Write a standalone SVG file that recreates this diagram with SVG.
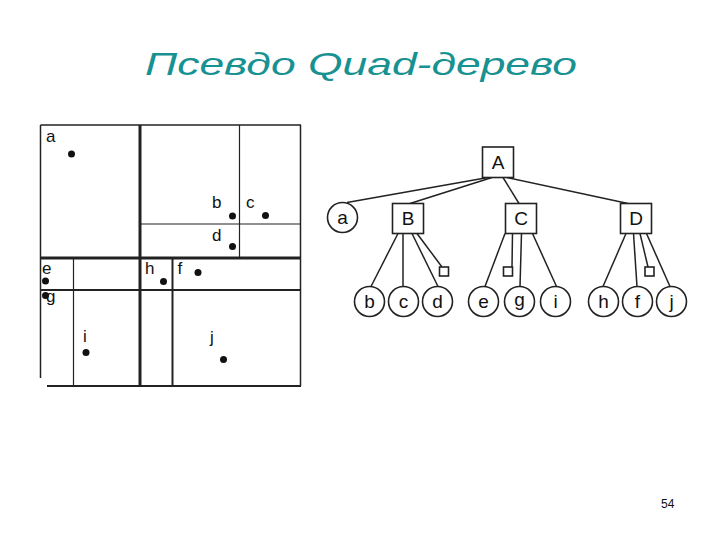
<svg xmlns="http://www.w3.org/2000/svg" width="720" height="540" viewBox="0 0 720 540">
<style>
.title{font-family:"Liberation Sans",Arial,sans-serif;font-style:italic;font-size:32px;fill:#179191}
.lbl{font-family:"Liberation Sans",Arial,sans-serif;font-size:17px;fill:#111}
.tl{font-family:"Liberation Sans",Arial,sans-serif;font-size:19px;fill:#111;text-anchor:middle}
.pt{fill:#111}
.ln{stroke:#222;fill:none}
.node{fill:#fff;stroke:#222;stroke-width:1.6}
.edge{stroke:#222;stroke-width:1.5;fill:none}
.pg{font-family:"Liberation Sans",Arial,sans-serif;font-size:12px;fill:#111}
</style>
<rect width="720" height="540" fill="#fff"/>
<text class="title" x="145" y="75" textLength="432" lengthAdjust="spacingAndGlyphs">Псевдо Quad-дерево</text>

<g id="space">
<line class="ln" stroke-width="1.5" x1="40.5" y1="125" x2="301" y2="125"/>
<line class="ln" stroke-width="1.5" x1="40.5" y1="125" x2="40.5" y2="378"/>
<line class="ln" stroke-width="1.5" x1="300.5" y1="125" x2="300.5" y2="386"/>
<line class="ln" stroke-width="1.8" x1="47" y1="386" x2="301" y2="386"/>
<line class="ln" stroke-width="3" x1="140" y1="125" x2="140" y2="387"/>
<line class="ln" stroke-width="3" x1="40" y1="258" x2="301" y2="258"/>
<line class="ln" stroke-width="1.2" x1="239.5" y1="125" x2="239.5" y2="257"/>
<line class="ln" stroke-width="1.2" x1="140" y1="224" x2="300" y2="224"/>
<line class="ln" stroke-width="2.2" x1="40" y1="290" x2="301" y2="290"/>
<line class="ln" stroke-width="1.2" x1="73.5" y1="258" x2="73.5" y2="386"/>
<line class="ln" stroke-width="2" x1="172.5" y1="258" x2="172.5" y2="386"/>
<circle class="pt" cx="71.5" cy="154" r="3.5"/>
<circle class="pt" cx="232.5" cy="216" r="3.5"/>
<circle class="pt" cx="265.5" cy="215.5" r="3.5"/>
<circle class="pt" cx="232.5" cy="246.5" r="3.5"/>
<circle class="pt" cx="45.5" cy="281" r="3.5"/>
<circle class="pt" cx="45.5" cy="295.5" r="3.5"/>
<circle class="pt" cx="163.5" cy="281.5" r="3.5"/>
<circle class="pt" cx="198" cy="272.5" r="3.5"/>
<circle class="pt" cx="86" cy="352.5" r="3.5"/>
<circle class="pt" cx="223.5" cy="359.5" r="3.5"/>
<text class="lbl" x="46" y="141.5">a</text>
<text class="lbl" x="212" y="208">b</text>
<text class="lbl" x="246" y="208">c</text>
<text class="lbl" x="212" y="241">d</text>
<text class="lbl" x="42" y="273.5">e</text>
<text class="lbl" x="145" y="274">h</text>
<text class="lbl" x="177.5" y="273.5">f</text>
<text class="lbl" x="46" y="302">g</text>
<text class="lbl" x="83" y="341.5">i</text>
<text class="lbl" x="210" y="343">j</text>
</g>

<g id="connectors">
<line class="edge" x1="488" y1="177.5" x2="347" y2="202.5"/>
<line class="edge" x1="492" y1="177.5" x2="410" y2="203.5"/>
<line class="edge" x1="503" y1="177.5" x2="519" y2="203.5"/>
<line class="edge" x1="507" y1="177.5" x2="628" y2="203.5"/>
<line class="edge" x1="398" y1="233.5" x2="371" y2="286.5"/>
<line class="edge" x1="403" y1="233.5" x2="403" y2="286.5"/>
<line class="edge" x1="412" y1="233.5" x2="438" y2="286.5"/>
<line class="edge" x1="417" y1="233.5" x2="442" y2="267"/>
<line class="edge" x1="505" y1="233.5" x2="485" y2="286.5"/>
<line class="edge" x1="512.5" y1="233.5" x2="512" y2="267"/>
<line class="edge" x1="521.5" y1="233.5" x2="520" y2="286.5"/>
<line class="edge" x1="532.5" y1="233.5" x2="556.5" y2="286.5"/>
<line class="edge" x1="626" y1="233.5" x2="603" y2="286.5"/>
<line class="edge" x1="633.5" y1="233.5" x2="637" y2="286.5"/>
<line class="edge" x1="640" y1="233.5" x2="648" y2="267"/>
<line class="edge" x1="646.5" y1="233.5" x2="670" y2="286.5"/>
</g>

<g id="node-A"><rect class="node" x="482.5" y="147" width="31" height="30.5"/><text class="tl" x="498" y="168.5">A</text></g>
<g id="node-a"><circle class="node" cx="342.5" cy="217.5" r="15"/><text class="tl" x="342.5" y="223.5">a</text></g>
<g id="node-B"><rect class="node" x="392.5" y="203.5" width="31" height="30"/><text class="tl" x="408" y="225">B</text></g>
<g id="node-C"><rect class="node" x="505.5" y="203.5" width="31" height="30"/><text class="tl" x="521" y="225">C</text></g>
<g id="node-D"><rect class="node" x="620.5" y="203.5" width="31" height="30"/><text class="tl" x="636" y="225">D</text></g>
<g id="node-Bempty"><rect class="node" x="439.5" y="267" width="9" height="9"/></g>
<g id="node-Cempty"><rect class="node" x="503.5" y="267" width="9" height="9"/></g>
<g id="node-Dempty"><rect class="node" x="645" y="267" width="9" height="9"/></g>
<g id="node-b"><circle class="node" cx="369.5" cy="301.5" r="15"/><text class="tl" x="369.5" y="308">b</text></g>
<g id="node-c"><circle class="node" cx="403.5" cy="301.5" r="15"/><text class="tl" x="403.5" y="308">c</text></g>
<g id="node-d"><circle class="node" cx="437.5" cy="301.5" r="15"/><text class="tl" x="437.5" y="308">d</text></g>
<g id="node-e"><circle class="node" cx="483.5" cy="301.5" r="15"/><text class="tl" x="483.5" y="308">e</text></g>
<g id="node-g"><circle class="node" cx="519.5" cy="301.5" r="15"/><text class="tl" x="519.5" y="305.5">g</text></g>
<g id="node-i"><circle class="node" cx="555.5" cy="301.5" r="15"/><text class="tl" x="555.5" y="308">i</text></g>
<g id="node-h"><circle class="node" cx="603.5" cy="301.5" r="15"/><text class="tl" x="603.5" y="308">h</text></g>
<g id="node-f"><circle class="node" cx="637.5" cy="301.5" r="15"/><text class="tl" x="637.5" y="308">f</text></g>
<g id="node-j"><circle class="node" cx="671.5" cy="301.5" r="15"/><text class="tl" x="671.5" y="308">j</text></g>

<text class="pg" x="661" y="508">54</text>
</svg>
